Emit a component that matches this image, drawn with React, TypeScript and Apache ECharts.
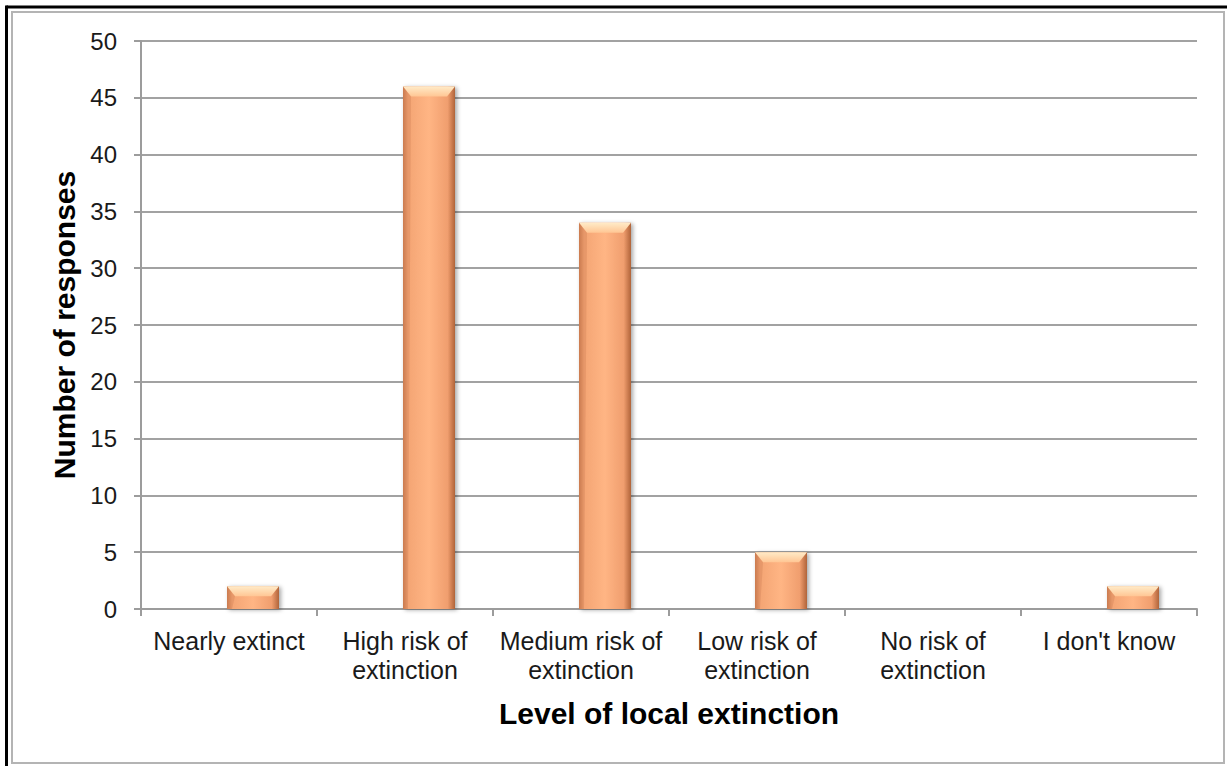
import React, { useEffect, useRef } from "react";
import * as echarts from "echarts";

const categories = [
  "Nearly extinct",
  "High risk of\nextinction",
  "Medium risk of\nextinction",
  "Low risk of\nextinction",
  "No risk of\nextinction",
  "I don't know",
];
const responses = [2, 46, 34, 5, 0, 2];
const emptySlot = categories.map(() => "-");
const Y_MIN = 0;
const Y_MAX = 50;
const Y_STEP = 5;
const xTitle = "Level of local extinction";
const yTitle = "Number of responses";

const BAR_W = 52;
const BAR_OFFSET = 24;
const FONT = "'Liberation Sans', Arial, sans-serif";

export default function App() {
  const ref = useRef<HTMLDivElement>(null);
  useEffect(() => {
    if (!ref.current) return;
    const chart = echarts.init(ref.current, null, { renderer: "svg" });
    const barFill = new echarts.graphic.LinearGradient(0, 0, 1, 0, [
      { offset: 0, color: "#CF7F52" },
      { offset: 0.1, color: "#F4A574" },
      { offset: 0.5, color: "#FFB584" },
      { offset: 0.86, color: "#F09E6E" },
      { offset: 1, color: "#B0633A" },
    ]);
    chart.setOption({
      animation: false,
      backgroundColor: "#ffffff",
      textStyle: { fontFamily: FONT },
      grid: { left: 141, right: 30, top: 41, bottom: 157, outerBoundsMode: "none" },
      xAxis: {
        type: "category",
        data: categories,
        name: xTitle,
        nameLocation: "middle",
        nameGap: 89,
        nameTextStyle: { fontSize: 30, fontWeight: "bold", color: "#000", fontFamily: FONT },
        axisLine: { lineStyle: { color: "#9C9C9C", width: 2 } },
        axisTick: { show: true, length: 7, alignWithLabel: false, lineStyle: { color: "#9C9C9C", width: 2 } },
        axisLabel: { fontSize: 25, color: "#1a1a1a", margin: 17, lineHeight: 29.5, interval: 0, fontFamily: FONT },
      },
      yAxis: {
        type: "value",
        min: Y_MIN,
        max: Y_MAX,
        interval: Y_STEP,
        name: yTitle,
        nameLocation: "middle",
        nameGap: 61,
        nameRotate: 90,
        nameTextStyle: { fontSize: 30, fontWeight: "bold", color: "#000", fontFamily: FONT },
        axisLine: { show: true, lineStyle: { color: "#9C9C9C", width: 2 } },
        axisTick: { show: true, length: 7, lineStyle: { color: "#9C9C9C", width: 2 } },
        axisLabel: { fontSize: 24, color: "#1a1a1a", margin: 24, fontFamily: FONT },
        splitLine: { show: true, lineStyle: { color: "#A2A2A2", width: 2 } },
      },
      series: [
        {
          type: "bar",
          name: "spacer",
          data: emptySlot,
          barWidth: BAR_W,
          barGap: `${((2 * BAR_OFFSET - BAR_W) / BAR_W) * 100}%`,
          silent: true,
        },
        {
          type: "bar",
          name: "Responses",
          data: responses,
          barWidth: BAR_W,
          itemStyle: {
            color: barFill,
            shadowColor: "rgba(0,0,0,0.35)",
            shadowBlur: 4,
            shadowOffsetX: 2,
            shadowOffsetY: 1,
          },
        },
        {
          type: "custom",
          name: "bevel",
          data: responses.map((v, i) => [i, v]),
          silent: true,
          z: 5,
          renderItem: (params: any, api: any) => {
            const v = api.value(1);
            if (!v) return null;
            const top = api.coord([api.value(0), v]);
            const base = api.coord([api.value(0), 0]);
            const cx = top[0] + BAR_OFFSET;
            const x0 = cx - BAR_W / 2;
            const x1 = cx + BAR_W / 2;
            const y0 = top[1];
            const h = Math.min(10, (base[1] - y0) / 2);
            return {
              type: "group",
              children: [
                {
                  type: "polygon",
                  shape: {
                    points: [
                      [x0, y0],
                      [x1, y0],
                      [x1 - 8, y0 + h],
                      [x0 + 8, y0 + h],
                    ],
                  },
                  style: {
                    fill: new echarts.graphic.LinearGradient(0, 0, 0, 1, [
                      { offset: 0, color: "#FFEBC8" },
                      { offset: 1, color: "#FFC694" },
                    ]),
                  },
                },
                {
                  type: "polygon",
                  shape: {
                    points: [
                      [x0, y0],
                      [x0 + 8, y0 + h],
                      [x0 + 5, base[1]],
                      [x0, base[1]],
                    ],
                  },
                  style: { fill: "rgba(190,110,70,0.25)" },
                },
              ],
            };
          },
        },
      ],
      graphic: [
        {
          type: "line",
          shape: { x1: 6.5, y1: 7, x2: 1227, y2: 7 },
          style: { stroke: "#000", lineWidth: 3 },
          silent: true,
        },
        {
          type: "line",
          shape: { x1: 6.5, y1: 5.5, x2: 6.5, y2: 766 },
          style: { stroke: "#000", lineWidth: 3 },
          silent: true,
        },
        {
          type: "rect",
          shape: { x: 12, y: 12, width: 1212, height: 751 },
          style: { fill: "none", stroke: "#B4B4B4", lineWidth: 2 },
          silent: true,
        },
      ],
    });
    return () => chart.dispose();
  }, []);
  return (
    <div
      ref={ref}
      style={{ position: "fixed", left: 0, top: 0, width: 1227, height: 766 }}
    />
  );
}
